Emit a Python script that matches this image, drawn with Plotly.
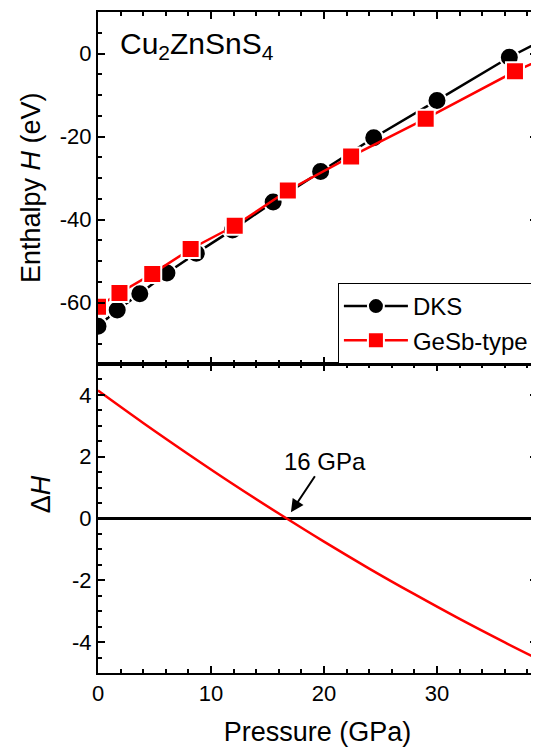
import plotly.graph_objects as go
from plotly.subplots import make_subplots

# ---- data ----
dks_p = [0, 1.7, 3.7, 6.1, 8.7, 11.9, 15.5, 19.7, 24.4, 30.0, 36.4, 43.0]
dks_h = [-65.7, -61.8, -57.9, -52.9, -48.1, -42.5, -35.8, -28.4, -20.3, -11.3, -0.9, 8.3]
gesb_p = [0, 1.9, 4.8, 8.2, 12.1, 16.8, 22.4, 29.0, 36.9, 45.0]
gesb_h = [-61.0, -57.7, -53.1, -47.1, -41.5, -33.0, -24.8, -15.7, -4.3, 5.5]
dh_p = [0, 4, 8, 12, 16, 20, 24, 28, 32, 36, 40]
dh_v = [4.14, 3.09, 2.08, 1.10, 0.16, -0.75, -1.62, -2.45, -3.25, -4.01, -4.74]

x_ticks = [0, 10, 20, 30]
h_ticks = [-60, -40, -20, 0]
h_ticktext = ["-60", "-40", "-20", "0"]
dh_ticks = [-4, -2, 0, 2, 4]
dh_ticktext = ["-4", "-2", "0", "2", "4"]

FONT = "Liberation Sans, Arial, sans-serif"

fig = make_subplots(rows=2, cols=1, shared_xaxes=True, vertical_spacing=0)

fig.add_trace(go.Scatter(
    x=dks_p, y=dks_h, name="DKS", mode="lines+markers",
    line=dict(color="black", width=2.5),
    marker=dict(symbol="circle", size=19, color="black",
                line=dict(color="white", width=2)),
), row=1, col=1)
fig.add_trace(go.Scatter(
    x=gesb_p, y=gesb_h, name="GeSb-type", mode="lines+markers",
    line=dict(color="#ff0000", width=2.5),
    marker=dict(symbol="square", size=18, color="#ff0000",
                line=dict(color="white", width=2)),
), row=1, col=1)
fig.add_trace(go.Scatter(
    x=dh_p, y=dh_v, mode="lines", showlegend=False,
    line=dict(color="#ff0000", width=2.5, shape="spline", smoothing=1.0),
), row=2, col=1)

axis_common = dict(
    showline=True, linecolor="black", linewidth=2, mirror="ticks",
    ticks="inside", ticklen=7, tickwidth=2, tickcolor="black",
    showgrid=False, zeroline=False,
    tickfont=dict(family=FONT, size=22, color="black"),
)
minor_common = dict(ticks="inside", ticklen=4, tickwidth=2,
                    tickcolor="black", showgrid=False)

split = 0.4675
fig.update_layout(
    width=531, height=739,
    margin=dict(l=90, r=0, t=4, b=74),
    paper_bgcolor="white", plot_bgcolor="white",
    font=dict(family=FONT, color="black"),
    showlegend=True,
    legend=dict(
        x=0.5465, y=split, xanchor="left", yanchor="bottom",
        bgcolor="white", bordercolor="black", borderwidth=1,
        font=dict(family=FONT, size=24, color="black"),
        tracegroupgap=0, itemwidth=64,
    ),
    xaxis=dict(axis_common, range=[0, 38.85], tickvals=x_ticks,
               showticklabels=False,
               minor=dict(minor_common, tickmode="linear", tick0=0, dtick=2)),
    xaxis2=dict(axis_common, range=[0, 38.85], tickvals=x_ticks,
                minor=dict(minor_common, tickmode="linear", tick0=0, dtick=2),
                title=dict(text="Pressure (GPa)", standoff=19,
                           font=dict(family=FONT, size=27, color="black"))),
    yaxis=dict(axis_common, domain=[split, 1], range=[-74.8, 10],
               tickvals=h_ticks, ticktext=h_ticktext,
               minor=dict(minor_common, tickmode="linear", tick0=0, dtick=5)),
    yaxis2=dict(axis_common, domain=[0, split], range=[-5, 5],
                tickvals=dh_ticks, ticktext=dh_ticktext,
                zeroline=True, zerolinecolor="black", zerolinewidth=2.5,
                minor=dict(minor_common, tickmode="linear", tick0=0, dtick=0.5)),
)

annotations = [
    dict(text="Enthalpy <i>H</i> (eV)", xref="paper", yref="paper",
         x=-0.152, y=0.734, xanchor="center", yanchor="middle",
         textangle=-90, showarrow=False,
         font=dict(family=FONT, size=27, color="black")),
    dict(text="Δ<i>H</i>", xref="paper", yref="paper",
         x=-0.131, y=0.271, xanchor="center", yanchor="middle",
         textangle=-90, showarrow=False,
         font=dict(family=FONT, size=27, color="black")),
    dict(text="Cu<sub>2</sub>ZnSnS<sub>4</sub>", xref="paper", yref="paper",
         x=0.045, y=0.950, xanchor="left", yanchor="middle",
         showarrow=False, font=dict(family=FONT, size=30, color="black")),
    dict(text="16 GPa", xref="x2", yref="y2", x=17.07, y=0.2,
         ax=34, ay=-51, showarrow=True, arrowhead=2, arrowsize=1.3,
         arrowwidth=2, arrowcolor="black",
         font=dict(family=FONT, size=24, color="black")),
]
fig.update_layout(annotations=annotations)

fig.write_html("out.html")
